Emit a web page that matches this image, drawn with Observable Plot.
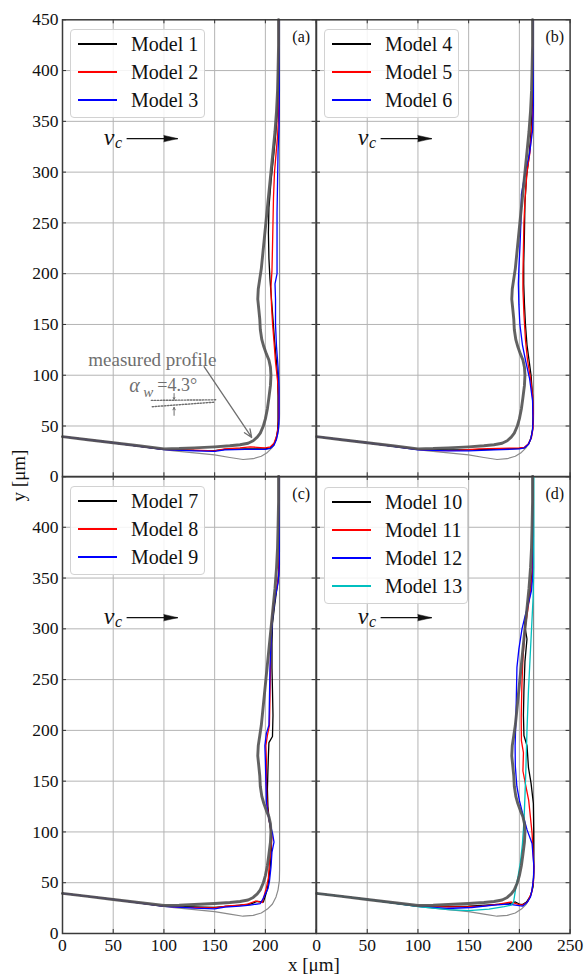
<!DOCTYPE html>
<html><head><meta charset="utf-8">
<script src="https://cdn.jsdelivr.net/npm/d3@7"></script>
<script src="https://cdn.jsdelivr.net/npm/@observablehq/plot@0.6"></script>
<style>
body{margin:0;background:#fff;}
#wrap{position:relative;width:585px;height:974px;font-family:"Liberation Serif",serif;color:#111;}
#wrap svg{position:absolute;overflow:visible;background:transparent;}
.legend{position:absolute;box-sizing:border-box;border:1px solid #d2d2d2;border-radius:4px;background:rgba(255,255,255,0.85);z-index:5;}
.lline{position:absolute;left:7px;width:39px;height:1.8px;}
.ltext{position:absolute;left:60px;font-size:20px;line-height:22px;white-space:nowrap;}
.title{position:absolute;font-size:19px;line-height:15px;white-space:nowrap;z-index:5;}
</style></head>
<body><div id="wrap"></div>
<script>
// ---------- data ----------
const xTicks = [0, 50, 100, 150, 200, 250];
const yTicks = [0, 50, 100, 150, 200, 250, 300, 350, 400, 450];
const xLabelsLeft = [0, 50, 100, 150, 200];
const xLabelsRight = [0, 50, 100, 150, 200, 250];
const yLabelsTop = [0, 50, 100, 150, 200, 250, 300, 350, 400, 450];
const yLabelsBottom = [0, 50, 100, 150, 200, 250, 300, 350, 400];
const panelTags = ["(a)", "(b)", "(c)", "(d)"];
const modelNames = [["Model 1", "Model 2", "Model 3"], ["Model 4", "Model 5", "Model 6"],
                    ["Model 7", "Model 8", "Model 9"], ["Model 10", "Model 11", "Model 12", "Model 13"]];
const modelColors = [["#000000", "#ff0000", "#0000ff"], ["#000000", "#ff0000", "#0000ff"],
                     ["#000000", "#ff0000", "#0000ff"], ["#000000", "#ff0000", "#0000ff", "#00bfbf"]];

// measured profile (thick grey), tool outline (thin grey)
const profile = [[0,39.5],[25,36.5],[50,33.5],[75,30.5],[100,27.5],[115,27.8],[130,28.5],[150,29.5],[165,30.5],[175,31.5],[183,33],[188,35.5],[192,39],[195,43],[198,50],[200,57],[202,67],[203.5,78],[205,90],[205.5,100],[205,108],[203.5,115],[201,121],[198.5,128],[196.5,135],[195,145],[194.5,155],[193.5,165],[192.5,175],[193,185],[194.5,195],[196,205],[197.5,220],[199,235],[200.5,250],[202,265],[203.5,280],[205.5,300],[207.5,320],[209.5,340],[211,360],[212,380],[212.5,400],[213,425],[213,450]];
const tool = [[0,39.5],[50,33.5],[90,28],[110,25.5],[130,23.5],[150,21.5],[165,19],[178,17],[188,17.8],[196,20.2],[202,24],[207,29],[210.5,36],[212.5,43],[213.8,52],[214,62],[214,450]];

// panel (a)
const m1 = [[0,39.5],[50,33.5],[100,27],[130,26],[150,25.8],[160,27],[180,27.5],[200,27.5],[205,28.5],[208,31],[210.5,37],[212,45],[212.5,55],[212.5,80],[212,100],[210.5,118],[209,135],[207.5,155],[206,175],[204.5,195],[203.5,215],[203,240],[203.5,265],[205.5,290],[207,305],[208.5,320],[210,335],[211.5,355],[212.5,380],[213,410],[213,450]];
const m2 = [[0,39.5],[50,33.5],[100,27],[130,26.2],[150,25.5],[160,27.5],[175,28.5],[185,29.5],[195,28.8],[200,28.5],[205,29.5],[208.5,33],[211,40],[212.5,48],[213,58],[213,78],[212,95],[210,113],[208.5,133],[207,152],[206,170],[205.5,187],[206.5,203],[207,225],[207.5,250],[208,275],[209,300],[210.5,318],[212,335],[213,355],[213.5,380],[213.5,450]];
const m3 = [[0,39.5],[50,33.5],[100,26.8],[130,25.5],[150,25],[160,26.5],[180,27],[200,27],[205,28],[208.5,31],[211,37],[212.8,46],[213.5,58],[213.5,88],[212.5,108],[211,128],[210,150],[210,175],[209.5,190],[211.5,200],[211.5,230],[211.5,260],[212,290],[212.5,320],[213.5,345],[213.8,380],[213.8,450]];
// panel (b)
const m4 = [[0,39.5],[50,33.5],[100,27],[130,26.5],[150,26.5],[175,27],[200,28],[205,28.5],[209,32],[211.5,38],[213,47],[213.5,60],[213,80],[211.5,100],[209.5,115],[207.5,130],[206,150],[205,170],[204.3,190],[204.3,210],[205,240],[205.5,270],[207,295],[209.5,315],[211.5,340],[213,370],[213.5,400],[213.5,450]];
const m5 = [[0,39.5],[50,33.5],[100,27],[120,25.8],[140,26],[160,27.5],[180,28],[200,28.5],[205,29],[209,32.5],[212,39],[213.5,48],[213.8,60],[213,80],[211,97],[208,115],[206,135],[204.5,160],[203.5,185],[203.5,200],[204,225],[204.5,250],[205.5,272],[207.5,300],[210.5,320],[212,340],[213.5,360],[213.8,450]];
const m6 = [[0,39.5],[50,33.5],[100,26.5],[130,25.5],[150,25.5],[175,26.5],[200,27.5],[205,28.5],[209,32],[211.5,38],[213,46],[213.5,56],[213,75],[210,97],[206,115],[203,130],[200.5,150],[199.5,170],[199,190],[199.5,205],[200.5,225],[201.5,250],[202,278],[206,301],[210,318],[213,341],[213.8,365],[213.8,450]];
// panel (c)
const m7 = [[0,39.5],[50,33.5],[100,27],[130,26.2],[150,25.8],[170,27.5],[185,29],[192,31.5],[198,31],[200,37],[202,44],[203.5,54],[205,68],[206,84],[206,98],[204,110],[202.5,125],[202,142],[202.5,160],[203,175],[203.5,188],[207,194],[207.5,215],[207,240],[206.5,262],[206.5,285],[207,305],[209,322],[211,337],[213,352],[213.8,375],[213.8,450]];
const m8 = [[0,39.5],[50,33.5],[100,27],[120,25.8],[150,25.2],[160,26.8],[175,28],[182.5,29],[190.5,32],[197,30.5],[199,38],[201,45],[203,55],[204,70],[205.5,84],[206.5,95],[205,105],[203,115],[201.5,130],[201,150],[201,170],[200.5,185],[202,195],[204,205],[204.5,230],[205,260],[205,282],[205.5,300],[207.5,320],[210,335],[212.5,348],[213.5,362],[213.8,450]];
const m9 = [[0,39.5],[50,33.5],[100,26.8],[130,25],[150,24.3],[160,26],[175,27],[185,28],[195,29.5],[197.5,34],[200,39],[202.5,44],[204,51],[205.5,65],[206.5,80],[208.5,90],[207,99],[204.5,108],[202.5,118],[201,130],[200.5,150],[200,170],[199.5,185],[201,197],[203.5,205],[204,230],[204.5,260],[205.5,285],[207,310],[209.5,330],[212.5,345],[213.8,362],[213.8,450]];
// panel (d)
const m10 = [[0,39.5],[50,33.5],[100,27],[130,26.5],[150,26.8],[175,28.5],[190,29.5],[196,31],[200,29],[203,28.5],[207,31],[211,37],[213.5,46],[214.2,60],[214.2,100],[213.8,128],[211.5,148],[209,163],[208,178],[207.5,185],[204.5,195],[204,215],[204.5,240],[205.5,268],[207.5,290],[205,305],[208,322],[211,340],[213,360],[213.8,390],[213.8,450]];
const m11 = [[0,39.5],[50,33.5],[100,27],[127,26.2],[150,26.5],[163,27],[180,29],[192,31],[198,29],[203,28],[208,31],[212,40],[214,52],[214.3,66],[212.5,99],[209.2,131],[206,147],[203.5,160],[204,178],[202,190],[201.8,213],[202.5,245],[203.5,271],[205.5,300],[208.5,320],[211,338],[212.5,350],[213.5,370],[213.8,450]];
const m12 = [[0,39.5],[50,33.5],[100,26.8],[128,24.6],[153,25.6],[175,28],[189.4,29],[196,28],[203.3,27],[208,31],[211,36],[212.5,42.7],[214,55],[214.3,66],[212.5,88.6],[207.6,102],[204,115],[200,131],[197.5,145],[196,165],[195.8,185],[196.6,213],[197.6,262],[199.5,280],[202.6,300],[205.5,312],[209,325],[212,338],[213.5,355],[213.8,450]];
const m13 = [[0,39.5],[50,33.5],[100,26.5],[130,23.5],[150,22.5],[170,24],[185,26.5],[192,28],[194.3,31],[196,42],[198.5,55],[201,70],[203,88],[204.5,110],[205.5,135],[206.5,165],[207.5,200],[209,240],[210.5,270],[212,300],[213.5,330],[214.2,360],[214.2,450]];
const panelModels = [[m1, m2, m3], [m4, m5, m6], [m7, m8, m9], [m10, m11, m12, m13]];

// annotations (data coordinates)
const vcTop = {vx: 45.8, vy: 334, cx: 55.3, cy: 328.5, x1: 63.2, x2: 113.6, y: 333};
const vcBottom = {vx: 45.8, vy: 312, cx: 55.3, cy: 306.5, x1: 63.2, x2: 113.6, y: 311};
const measuredLabel = {x: 88.6, y: 115.3, text: "measured profile"};
const measuredArrow = {x1: 139.6, y1: 108.4, x2: 186.5, y2: 38.7};
const angleLines = [[[87.6, 75.2], [151, 75.8]], [[88.5, 69], [150, 73.5]]];
const angleArrows = [{x1: 110, y1: 82, x2: 110, y2: 76.3}, {x1: 110, y1: 60.5, x2: 110, y2: 68.3}];
const angleText = {ax: 71, ay: 89.8, wx: 84.5, wy: 83.5, ex: 93.5, ey: 90.6, value: "=4.3°"};

// ---------- layout ----------
const PL = 62, PT = 19.3, PW = 253.6, PH = 457, MB = 42;
const wrap = document.getElementById("wrap");
const FONT = "Liberation Serif";

const panels = [
  {left: 0, top: 0, ml: PL, mt: PT, mb: 0, xl: null, yl: yLabelsTop, vc: vcTop, annot: true},
  {left: PL + PW, top: 0, ml: 0, mt: PT, mb: 0, xl: null, yl: null, vc: vcTop, annot: false},
  {left: 0, top: PT + PH, ml: PL, mt: 0, mb: MB, xl: xLabelsLeft, yl: yLabelsBottom, vc: vcBottom, annot: false},
  {left: PL + PW, top: PT + PH, ml: 0, mt: 0, mb: MB, xl: xLabelsRight, yl: null, vc: vcBottom, annot: false}
];

const X = d => d[0], Y = d => d[1];
const grey = "#6f6f6f";

panels.forEach((p, i) => {
  const marks = [
    Plot.ruleX(xTicks.slice(1, -1), {x: d => d, stroke: "#b4b4b4", strokeWidth: 1}),
    Plot.ruleY(yTicks.slice(1, -1), {y: d => d, stroke: "#b4b4b4", strokeWidth: 1}),
    Plot.tickX(xTicks, {x: d => d, insetTop: PH - 4, stroke: "#333", strokeWidth: 1}),
    Plot.tickX(xTicks, {x: d => d, insetBottom: PH - 4, stroke: "#333", strokeWidth: 1}),
    Plot.tickY(yTicks, {y: d => d, insetRight: PW - 4, stroke: "#333", strokeWidth: 1}),
    Plot.tickY(yTicks, {y: d => d, insetLeft: PW - 4, stroke: "#333", strokeWidth: 1}),
    Plot.line(tool, {x: X, y: Y, stroke: "#8a8a8a", strokeWidth: 1.2})
  ];
  panelModels[i].forEach((m, k) => {
    marks.push(Plot.line(m, {x: X, y: Y, stroke: modelColors[i][k], strokeWidth: 1.3}));
  });
  marks.push(Plot.line(profile, {x: X, y: Y, stroke: "#555", strokeWidth: 2.9, strokeOpacity: 0.92, strokeLinejoin: "round"}));
  // v_c arrow
  const vc = p.vc;
  marks.push(Plot.text([vc], {x: "vx", y: "vy", text: () => "v", fontStyle: "italic", fontSize: 24, fontFamily: FONT, fill: "#111"}));
  marks.push(Plot.text([vc], {x: "cx", y: "cy", text: () => "c", fontStyle: "italic", fontSize: 16, fontFamily: FONT, fill: "#111"}));
  marks.push(Plot.link([vc], {x1: "x1", x2: "x2", y1: "y", y2: "y", stroke: "#111", strokeWidth: 1.3}));
  marks.push(Plot.vector([vc], {x: "x2", y: "y", length: 14, rotate: 90, shape: "spike", r: 3.2, anchor: "end", fill: "#111", stroke: "#111", strokeWidth: 0.5}));
  if (p.annot) {
    marks.push(Plot.text([measuredLabel], {x: "x", y: "y", text: "text", fontSize: 19, fontFamily: FONT, fill: grey}));
    marks.push(Plot.arrow([measuredArrow], {x1: "x1", y1: "y1", x2: "x2", y2: "y2", stroke: grey, strokeWidth: 1.3, headLength: 10, headAngle: 45}));
    angleLines.forEach(l => marks.push(Plot.line(l, {x: X, y: Y, stroke: grey, strokeWidth: 1.4, strokeDasharray: "1.5,1.5"})));
    marks.push(Plot.arrow(angleArrows, {x1: "x1", y1: "y1", x2: "x2", y2: "y2", stroke: grey, strokeWidth: 1, headLength: 4, headAngle: 50}));
    marks.push(Plot.text([angleText], {x: "ax", y: "ay", text: () => "α", fontStyle: "italic", fontSize: 20, fontFamily: FONT, fill: grey}));
    marks.push(Plot.text([angleText], {x: "wx", y: "wy", text: () => "w", fontStyle: "italic", fontSize: 15, fontFamily: FONT, fill: grey}));
    marks.push(Plot.text([angleText], {x: "ex", y: "ey", text: "value", textAnchor: "start", fontSize: 18, fontFamily: FONT, fill: grey}));
  }
  marks.push(Plot.text([panelTags[i]], {text: d => d, frameAnchor: "top-right", dx: -6, dy: 17.5, lineAnchor: "middle", fontSize: 16, fontFamily: FONT, fill: "#111"}));
  marks.push(Plot.frame({stroke: "#3a3a3a", strokeWidth: 1.5}));

  const svg = Plot.plot({
    width: p.ml + PW, height: p.mt + PH + p.mb,
    marginLeft: p.ml, marginRight: 0, marginTop: p.mt, marginBottom: p.mb,
    x: p.xl ? {domain: [0, 250], ticks: p.xl, tickSize: 0, tickPadding: 5, label: null} : {domain: [0, 250], axis: null},
    y: p.yl ? {domain: [0, 450], ticks: p.yl, tickSize: 0, tickPadding: 4, label: null} : {domain: [0, 450], axis: null},
    style: {fontFamily: FONT, fontSize: "17.5px", background: "transparent", overflow: "visible", color: "#111"},
    marks
  });
  svg.style.left = p.left + "px";
  svg.style.top = p.top + "px";
  wrap.appendChild(svg);
});

// legends
const legendBoxes = [
  {left: 70, top: 29, w: 135, h: 89},
  {left: 324, top: 29, w: 135, h: 89},
  {left: 70, top: 486, w: 135, h: 89},
  {left: 324, top: 487, w: 144, h: 117}
];
legendBoxes.forEach((b, i) => {
  const box = document.createElement("div");
  box.className = "legend";
  Object.assign(box.style, {left: b.left + "px", top: b.top + "px", width: b.w + "px", height: b.h + "px"});
  modelNames[i].forEach((name, k) => {
    const cy = 14.3 + 27.8 * k;
    const line = document.createElement("div");
    line.className = "lline";
    line.style.top = (cy - 0.9) + "px";
    line.style.backgroundColor = modelColors[i][k];
    const txt = document.createElement("div");
    txt.className = "ltext";
    txt.style.top = (cy - 11) + "px";
    txt.textContent = name;
    box.appendChild(line); box.appendChild(txt);
  });
  wrap.appendChild(box);
});

// axis titles
const xt = document.createElement("div");
xt.className = "title"; xt.textContent = "x [μm]";
Object.assign(xt.style, {left: "288px", top: "957px"});
wrap.appendChild(xt);
const yt = document.createElement("div");
yt.className = "title"; yt.textContent = "y [μm]";
Object.assign(yt.style, {left: "-8px", top: "468px", width: "52px", textAlign: "center", transform: "rotate(-90deg)"});
wrap.appendChild(yt);
</script></body></html>
